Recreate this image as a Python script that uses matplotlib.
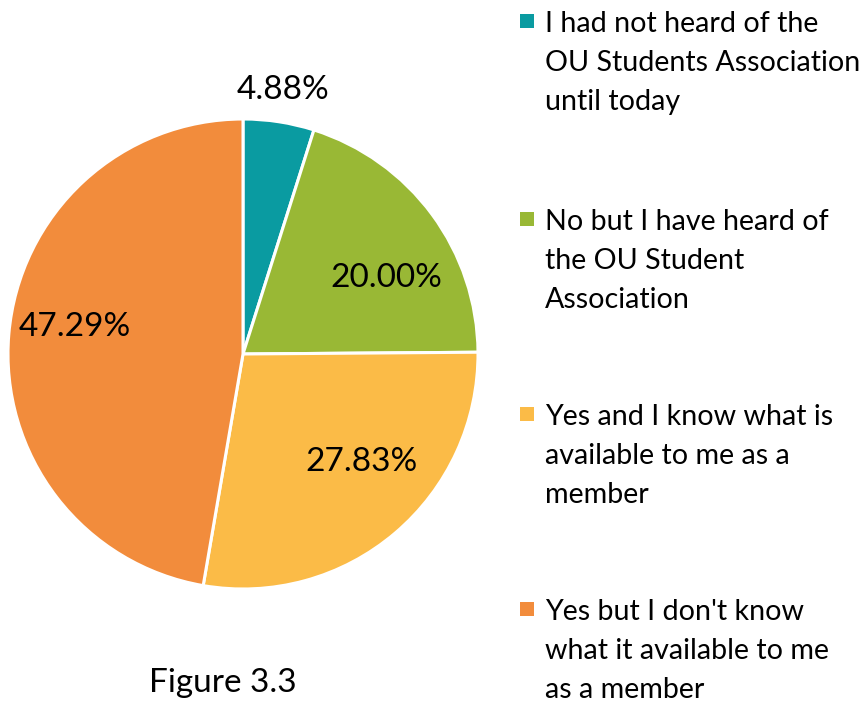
import matplotlib
matplotlib.use("Agg")
import matplotlib.pyplot as plt
from matplotlib.patches import Rectangle

categories = [
    "I had not heard of the\nOU Students Association\nuntil today",
    "No but I have heard of\nthe OU Student\nAssociation",
    "Yes and I know what is\navailable to me as a\nmember",
    "Yes but I don't know\nwhat it available to me\nas a member",
]
values = [4.88, 20.00, 27.83, 47.29]
colors = ["#0A9BA1", "#99B835", "#FBBB47", "#F28C3C"]

plt.rcParams['font.family'] = ['Lato', 'DejaVu Sans']

fig = plt.figure(figsize=(8.68, 7.02), dpi=100)
ax = fig.add_axes([8/868, (702-354-235)/702, 470/868, 470/702])
wedges, texts, autotexts = ax.pie(
    values, colors=colors, startangle=90, counterclock=False,
    autopct=lambda p: f"{p:.2f}%", pctdistance=0.6,
    wedgeprops=dict(edgecolor="white", linewidth=2.2),
    textprops=dict(fontsize=24, color="black"))
ax.set_xlim(-1, 1)
ax.set_ylim(-1, 1)
ax.set_aspect("equal")

label_pos = [(0.17, 1.123), (0.609, 0.323), (0.506, -0.46), (-0.715, 0.115)]
for t, v, (x, y) in zip(autotexts, values, label_pos):
    t.set_text(f"{v:.2f}%")
    t.set_position((x, y))
    t.set_ha("center"); t.set_va("center")

fig.text(223/868, 1-683/702, "Figure 3.3", ha="center", va="center", fontsize=24)

baselines = [32, 230, 425, 620]
line_gap = 39
for lab, col, yb in zip(categories, colors, baselines):
    fig.patches.append(Rectangle((520/868, 1-(yb-4)/702), 14/868, 14/702,
                                 transform=fig.transFigure, facecolor=col, edgecolor="none"))
    for i, line in enumerate(lab.split("\n")):
        fig.text(545/868, 1-(yb + i*line_gap)/702, line, ha="left", va="baseline",
                 fontsize=20.6)

fig.savefig("out.png", dpi=100)
